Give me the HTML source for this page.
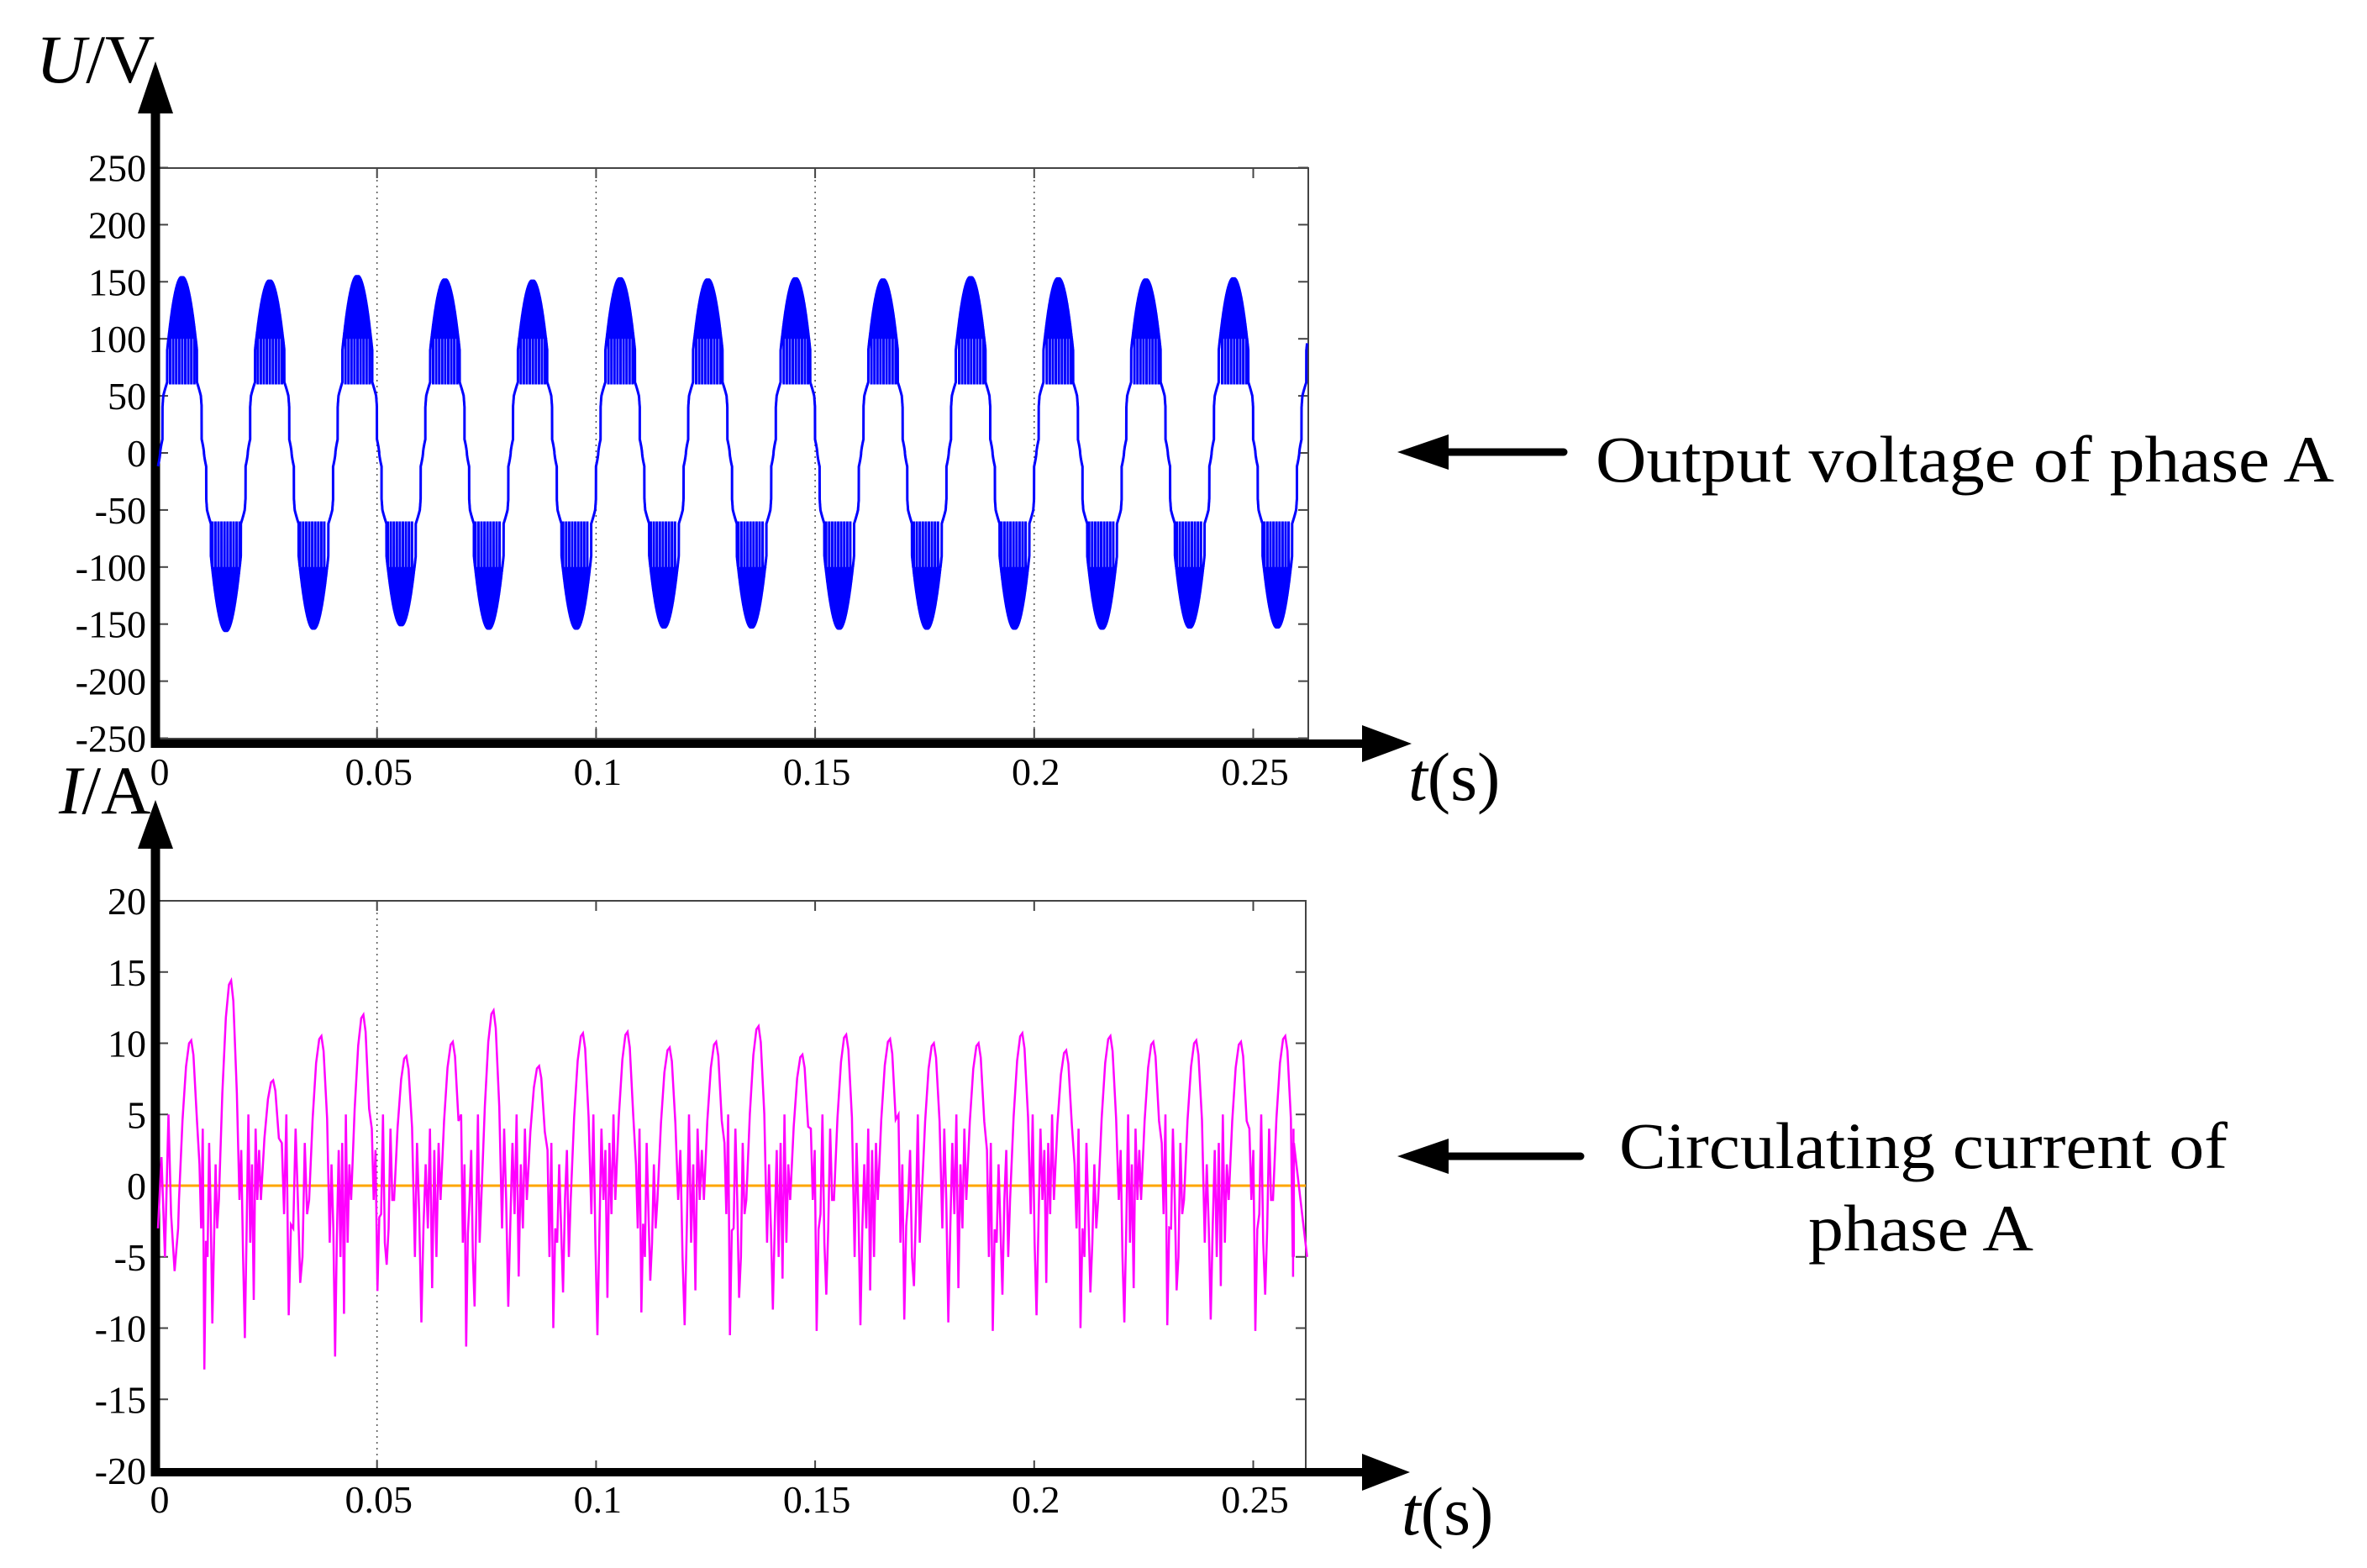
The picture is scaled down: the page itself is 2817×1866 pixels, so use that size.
<!DOCTYPE html>
<html><head><meta charset="utf-8"><style>
html,body{margin:0;padding:0;background:#fff;}
svg{display:block;}
text{font-family:"Liberation Serif",serif;fill:#000;}
</style></head><body>
<svg id="fig" width="2817" height="1866" viewBox="0 0 2817 1866" xmlns="http://www.w3.org/2000/svg">
<rect width="2817" height="1866" fill="#fff"/>
<g id="top"></g>
<g id="bot"></g>
<g>
<line x1="1715" y1="538" x2="1861" y2="538" stroke="#000" stroke-width="9" stroke-linecap="round"/>
<polygon points="1663,538 1724,517 1724,559" fill="#000"/>
<text x="1899" y="573" font-size="78" textLength="879" lengthAdjust="spacingAndGlyphs">Output voltage of phase A</text>
</g>
<g>
<line x1="1715" y1="1376" x2="1881" y2="1376" stroke="#000" stroke-width="9" stroke-linecap="round"/>
<polygon points="1663,1376 1724,1355 1724,1397" fill="#000"/>
<text x="1927" y="1390" font-size="78" textLength="724" lengthAdjust="spacingAndGlyphs">Circulating current of</text>
<text x="2152" y="1488" font-size="78" textLength="268" lengthAdjust="spacingAndGlyphs">phase A</text>
</g>
</svg>
<script>
// ---- data ----
const xTicks = [0, 0.05, 0.1, 0.15, 0.2, 0.25];
const xTickLabels = ["0", "0.05", "0.1", "0.15", "0.2", "0.25"];
const vTicks = [250, 200, 150, 100, 50, 0, -50, -100, -150, -200, -250];
const iTicks = [20, 15, 10, 5, 0, -5, -10, -15, -20];
// voltage: per-cycle positive peaks and negative troughs (50 Hz cycles)
const vCyclePeaks = [155, 152, 156, 153, 152, 154, 153, 154, 153, 155, 154, 153, 154, 154];
const vCycleTroughs = [-157, -155, -152, -155, -155, -154, -154, -155, -155, -155, -155, -154, -154, -154];
const vChatterFloor = [100, 100, 100, 100, 100, 100, 100, 100, 100, 100, 100, 100, 100, 100];
// current: peak times (s), peak values and following trough values (A)
const iPeakT = [0.0076, 0.0167, 0.0263, 0.0373, 0.0469, 0.0567, 0.0673, 0.0766, 0.0870, 0.0970, 0.1072, 0.1168, 0.1274, 0.1371, 0.1471, 0.1571, 0.1671, 0.1771, 0.1873, 0.1973, 0.2073, 0.2174, 0.2272, 0.2370, 0.2472, 0.2573];
const iPeakV = [10.2, 14.4, 7.4, 10.5, 12.0, 9.1, 10.1, 12.3, 8.4, 10.7, 10.8, 9.7, 10.1, 11.2, 9.2, 10.6, 10.3, 10.0, 10.0, 10.7, 9.5, 10.5, 10.1, 10.2, 10.1, 10.5];
const iTroughV = [-12.9, -10.7, -9.1, -12.0, -7.4, -9.6, -11.3, -8.5, -10.0, -10.5, -8.9, -9.8, -10.5, -8.7, -10.2, -9.8, -9.4, -9.6, -10.2, -9.1, -10.0, -9.6, -9.8, -9.4, -10.2, -6.4];
const iWiggle = [1.5, -3, 4, -1, 2.5, -5, 3, -2, 5, -4];

const NS = "http://www.w3.org/2000/svg";
function mk(tag, attrs, parent, txt){
  const e = document.createElementNS(NS, tag);
  for (const k in attrs) e.setAttribute(k, attrs[k]);
  if (txt !== undefined) e.textContent = txt;
  parent.appendChild(e);
  return e;
}
const X0 = 188, PXPER = 260.7 / 0.05;
function xs(t){ return X0 + t * PXPER; }

function axesFrame(g, cfg){
  const {top, bottom, right, ys, ticks, grid, vTip, vBase, hY, hTip, hBase, xlabY} = cfg;
  const box = mk('rect', {x: X0, y: top, width: right - X0, height: bottom - top, fill: 'none', stroke: '#444', 'stroke-width': 2}, g);
  
  
  xTicks.forEach((t, i) => {
    const x = xs(t);
    if (grid.includes(i)) {
      const gl = mk('line', {x1: x, y1: top, x2: x, y2: bottom, stroke: '#555', 'stroke-width': 1.5, 'stroke-dasharray': '2,5'}, g);
      
      
    }
    const tk1 = mk('line', {x1: x, y1: top, x2: x, y2: top + 12, stroke: '#444', 'stroke-width': 2}, g);
    
    
    const tk2 = mk('line', {x1: x, y1: bottom, x2: x, y2: bottom - 12, stroke: '#444', 'stroke-width': 2}, g);
    
    
    const lb = mk('text', {x: x + 2, y: xlabY, 'font-size': 46, 'text-anchor': 'middle'}, g, xTickLabels[i]);
    
    
  });
  ticks.forEach(v => {
    const y = ys(v);
    const tk = mk('line', {x1: right, y1: y, x2: right - 12, y2: y, stroke: '#444', 'stroke-width': 2}, g);
    
    
    const tk2 = mk('line', {x1: X0, y1: y, x2: X0 + 12, y2: y, stroke: '#444', 'stroke-width': 2}, g);
    
    
    const lb = mk('text', {x: 174, y: y + 16, 'font-size': 46, 'text-anchor': 'end'}, g, String(v));
    
    
  });
  cfg.after && cfg.after();
  const va = mk('line', {x1: 185, y1: vBase - 2, x2: 185, y2: hY + 5, stroke: '#000', 'stroke-width': 11}, g);
  
  
  const vh = mk('polygon', {points: `185,${vTip} 164,${vBase} 206,${vBase}`, fill: '#000'}, g);
  
  
  const ha = mk('line', {x1: 180, y1: hY, x2: hBase + 2, y2: hY, stroke: '#000', 'stroke-width': 10}, g);
  
  
  const hh = mk('polygon', {points: `${hTip},${hY} ${hBase},${hY - 22} ${hBase},${hY + 22}`, fill: '#000'}, g);
  
  
}

// ---- top chart ----
const gTop = document.getElementById('top');
function yv(v){ return 539 - v * (879 - 200) / 500; }
axesFrame(gTop, {top: 200, bottom: 879, right: 1557, ys: yv, ticks: vTicks, grid: [1,2,3,4], vTip: 73, vBase: 135, hY: 885, hTip: 1680, hBase: 1621, xlabY: 934});
(function(){
  const pts = [];
  const T = 0.02, t0 = 0.0005, tEnd = 0.2623, dt = 0.000015;
  const N = Math.floor(tEnd / dt);
  for (let k = 0; k <= N; k++) {
    const t = k * dt;
    const ph = (t - t0) / T;
    const cyc = Math.max(0, Math.min(vCyclePeaks.length - 1, Math.floor(ph)));
    const s = Math.sin(2 * Math.PI * ph);
    const A = s >= 0 ? vCyclePeaks[cyc] : -vCycleTroughs[cyc];
    let mag = Math.pow(Math.abs(s), 0.75) * A;
    if (mag < vChatterFloor[cyc]) {
      const q = Math.floor(mag / 50) * 50;
      mag = (mag - q) > 40 ? mag : q + (mag - q) * 0.3;
    } else if (k % 2 === 1) {
      mag = vChatterFloor[cyc] - ((k % 23 === 1) ? 40 : 0);
    }
    pts.push(xs(t).toFixed(1) + ',' + yv(s >= 0 ? mag : -mag).toFixed(1));
  }
  const pl = mk('polyline', {points: pts.join(' '), fill: 'none', stroke: '#0000ff', 'stroke-width': 3}, gTop);
  
  
})();
const ul = mk('text', {x: 43, y: 98, 'font-size': 82}, gTop);


mk('tspan', {'font-style': 'italic'}, ul, 'U');
mk('tspan', {}, ul, '/V');
const tl = mk('text', {x: 1676, y: 952, 'font-size': 82}, gTop);


mk('tspan', {'font-style': 'italic'}, tl, 't');
mk('tspan', {}, tl, '(s)');

// ---- bottom chart ----
const gBot = document.getElementById('bot');
function yi(v){ return 1411 - v * (1750 - 1072) / 40; }
axesFrame(gBot, {top: 1072, bottom: 1750, right: 1554, ys: yi, ticks: iTicks, grid: [1], vTip: 952, vBase: 1010, hY: 1752, hTip: 1678, hBase: 1621, xlabY: 1800,
  after: function(){
    const z = mk('line', {x1: X0, y1: yi(0), x2: 1554, y2: yi(0), stroke: '#ffa500', 'stroke-width': 3}, gBot);
    
    
  }});
(function(){
  const pts = [[0, -3], [0.0008, 2], [0.0016, -5], [0.0024, 5], [0.003, -2], [0.0038, -6], [0.0046, -3]];
  for (let i = 0; i < iPeakT.length; i++) {
    const tp = iPeakT[i], pv = iPeakV[i];
    pts.push([tp - 0.0028, -1]);
    pts.push([tp - 0.002, pv * 0.45]);
    pts.push([tp - 0.0012, pv * 0.82]);
    pts.push([tp - 0.0005, pv * 0.98]);
    pts.push([tp, pv]);
    pts.push([tp + 0.0005, pv * 0.9]);
    pts.push([tp + 0.0013, pv * 0.45]);
    const tn = i + 1 < iPeakT.length ? iPeakT[i + 1] : 0.2623;
    const tr = iTroughV[i];
    const a = tp + 0.0017, b = tn - 0.003;
    const n = 12;
    for (let k = 0; k < n; k++) {
      const tt = a + (b - a) * (k + 0.5) / n;
      let v = iWiggle[(k + 3 * i) % iWiggle.length];
      if (k === 3) v = tr;
      if (k === 4) v = tr * 0.3;
      if (k === 8) v = tr * 0.75;
      pts.push([tt, v]);
    }
  }
  const filtered = pts.filter(p => p[0] <= 0.2618);
  filtered.push([0.2623, -5]);
  const pl = mk('polyline', {points: filtered.map(p => xs(p[0]).toFixed(1) + ',' + yi(p[1]).toFixed(1)).join(' '), fill: 'none', stroke: '#ff00ff', 'stroke-width': 2.5}, gBot);
  
  
})();
const il = mk('text', {x: 70, y: 968, 'font-size': 82}, gBot);


mk('tspan', {'font-style': 'italic'}, il, 'I');
mk('tspan', {}, il, '/A');
const tl2 = mk('text', {x: 1668, y: 1826, 'font-size': 82}, gBot);


mk('tspan', {'font-style': 'italic'}, tl2, 't');
mk('tspan', {}, tl2, '(s)');
</script>
</body></html>
